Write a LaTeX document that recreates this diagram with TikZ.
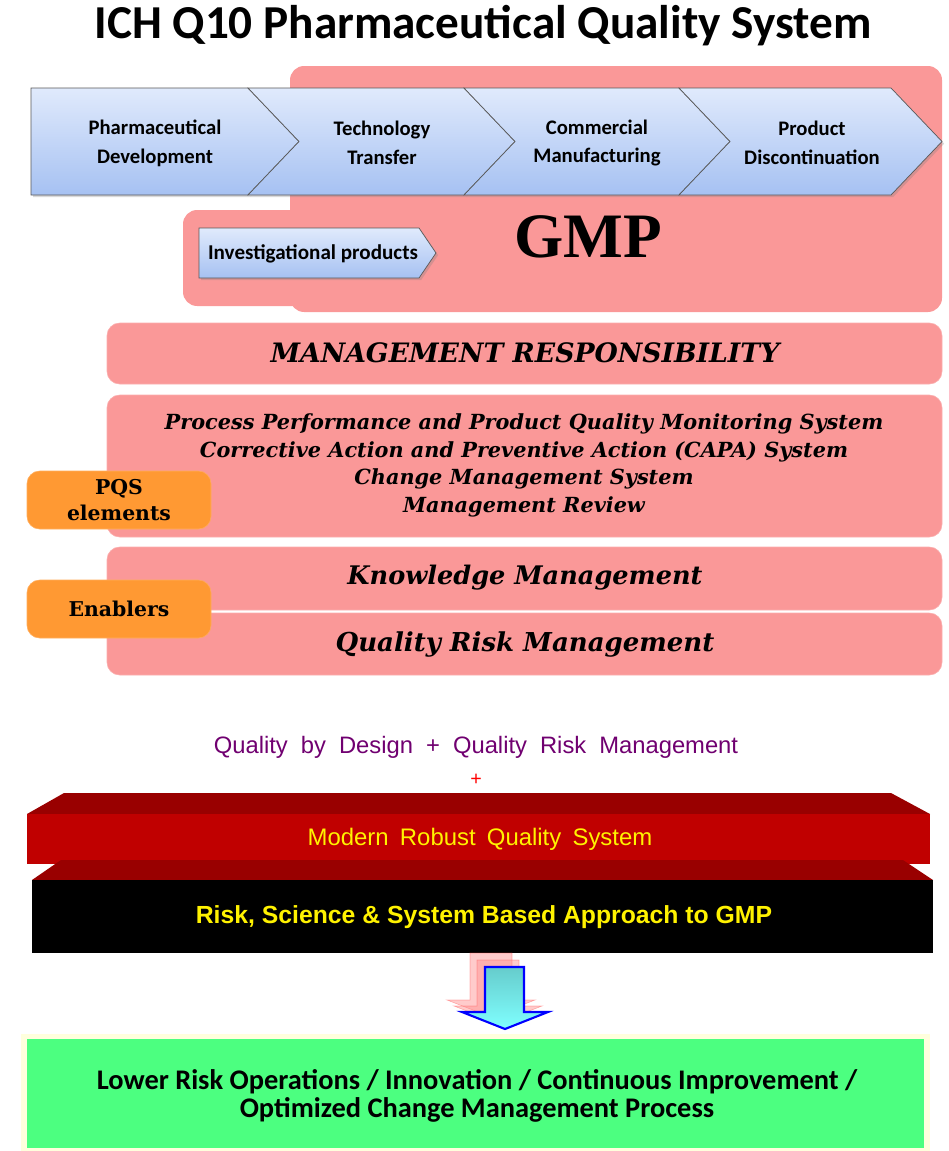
\documentclass[tikz,border=0pt]{standalone}
\usepackage{fontspec}
\setmainfont{Carlito}
\newfontfamily\schfont{DejaVu Serif}
\newfontfamily\plainsans{Liberation Sans}
\newfontfamily\gmpfont{Liberation Serif}
\usetikzlibrary{shadows}
\definecolor{qpink}{RGB}{250,152,152}
\definecolor{qorange}{RGB}{255,153,51}
\definecolor{chevtop}{RGB}{224,234,252}
\definecolor{chevbot}{RGB}{166,193,242}
\definecolor{slabtop}{RGB}{153,0,0}
\definecolor{slabred}{RGB}{192,0,0}
\definecolor{qpurple}{RGB}{112,0,112}
\definecolor{qgreen}{RGB}{76,255,128}
\definecolor{qcream}{RGB}{255,255,221}
\definecolor{qteal}{RGB}{102,204,204}
\tikzset{
  pinkbox/.style={fill=qpink, draw=qpink!80!white, rounded corners=9pt},
  orangebox/.style={fill=qorange, draw=qorange!80!white, rounded corners=9pt},
  chevron/.style={top color=chevtop, bottom color=chevbot, draw=gray!70!black, line width=0.5pt,
    drop shadow={opacity=0.3, shadow xshift=1.5pt, shadow yshift=-1.5pt}},
  chevtext/.style={align=center, font=\bfseries\fontsize{14.7}{20.5}\selectfont},
  pqstext/.style={align=center, font=\schfont\bfseries\itshape\fontsize{14.8}{19.6}\selectfont},
  bartext/.style={font=\schfont\bfseries\itshape\fontsize{18.5}{22}\selectfont},
  tagtext/.style={align=center, font=\schfont\bfseries\fontsize{14.5}{19}\selectfont},
  trail/.style={fill=red!45, draw=red!70, fill opacity=0.45, draw opacity=0.4}
}
\begin{document}
\begin{tikzpicture}[x=0.025cm, y=-0.025cm]
\useasboundingbox (0,0) rectangle (948,1151);
\node (title) at (483,26) {\fontsize{33.6}{36}\selectfont\bfseries ICH Q10 Pharmaceutical Quality System};

\fill[qpink, rounded corners=10pt] (290,66) rectangle (942,312);
\fill[qpink, rounded corners=10pt] (183,210) rectangle (400,306);

\shade[chevron] (31,88) -- (248,88) -- (299,141.5) -- (248,195) -- (31,195) -- cycle;
\foreach \l/\r in {248/464, 464/679, 679/891}
  \shade[chevron] (\l,88) -- (\r,88) -- (\r+51,141.5) -- (\r,195) -- (\l,195) -- (\l+51,141.5) -- cycle;
\node[chevtext] (dev) at (155,143) {Pharmaceutical\\Development};
\node[chevtext] (tech) at (382,143) {Technology\\Transfer};
\node[chevtext] (comm) at (597,143) {Commercial\\Manufacturing};
\node[chevtext] (disc) at (812,143) {Product\\Discontinuation};

\shade[chevron] (199,228) -- (419,228) -- (436,253) -- (419,278) -- (199,278) -- cycle;
\node[font=\bfseries\fontsize{15}{17}\selectfont] (invest) at (313,254) {Investigational products};
\node[font=\gmpfont\bfseries\fontsize{45}{50}\selectfont] (gmp) at (588,237) {GMP};

\draw[pinkbox] (107,323) rectangle (942,384);
\node[font=\schfont\bfseries\itshape\fontsize{19}{22}\selectfont] (mgmt) at (525,353) {MANAGEMENT RESPONSIBILITY};
\draw[pinkbox] (107,395) rectangle (942,537);
\node[pqstext] (pqs) at (524,465.5) {Process Performance and Product Quality Monitoring System\\Corrective Action and Preventive Action (CAPA) System\\Change Management System\\Management Review};
\draw[pinkbox] (107,547) rectangle (942,610);
\node[bartext, font=\schfont\bfseries\itshape\fontsize{18.2}{22}\selectfont] (km) at (525,578) {Knowledge Management};
\draw[pinkbox] (107,613) rectangle (942,675);
\node[bartext] (qrm) at (525,644) {Quality Risk Management};

\draw[orangebox] (27,471) rectangle (211,529);
\node[tagtext] (pqsel) at (119,500) {PQS\\elements};
\draw[orangebox] (27,580) rectangle (211,638);
\node[tagtext] (enab) at (119,609) {Enablers};

\node[text=qpurple, font=\plainsans\fontsize{16.9}{22}\selectfont] (qbd) at (476,747) {\spaceskip=0.55em\relax Quality by Design + Quality Risk Management};
\node[text=red, font=\plainsans\fontsize{14}{16}\selectfont] (plus) at (476,780) {+};

\fill[slabtop] (64,793) -- (891,793) -- (930,814) -- (27,814) -- cycle;
\fill[slabred] (27,814) rectangle (930,864);
\fill[slabtop] (61,860) -- (903,860) -- (933,880) -- (32,880) -- cycle;
\fill[black] (32,880) rectangle (933,953);
\node[text=yellow, font=\plainsans\fontsize{17}{20}\selectfont] (mrqs) at (480,839) {\spaceskip=0.47em\relax Modern Robust Quality System};
\node[text=yellow, font=\plainsans\bfseries\fontsize{17.6}{20}\selectfont] (rsa) at (484,917) {Risk, Science \& System Based Approach to GMP};

\foreach \c/\t/\h in {491/953/1000, 498/960/1006}
  \filldraw[trail] (\c-21,\t) -- (\c+21,\t) -- (\c+21,\h) -- (\c+44,\h) -- (\c,\h+17) -- (\c-44,\h) -- (\c-21,\h) -- cycle;
\shade[top color=qteal, bottom color=cyan!50, draw=blue, line width=1.5pt]
  (485,967) -- (524,967) -- (524,1012) -- (548,1012) -- (505,1029) -- (462,1012) -- (485,1012) -- cycle;

\fill[qcream] (21,1034) rectangle (930,1151);
\fill[qgreen] (27,1039) rectangle (924,1148);
\node[align=center, font=\bfseries\fontsize{20.2}{19.8}\selectfont] (result) at (477,1096) {Lower Risk Operations / Innovation / Continuous Improvement /\\Optimized Change Management Process};
\end{tikzpicture}
\end{document}
